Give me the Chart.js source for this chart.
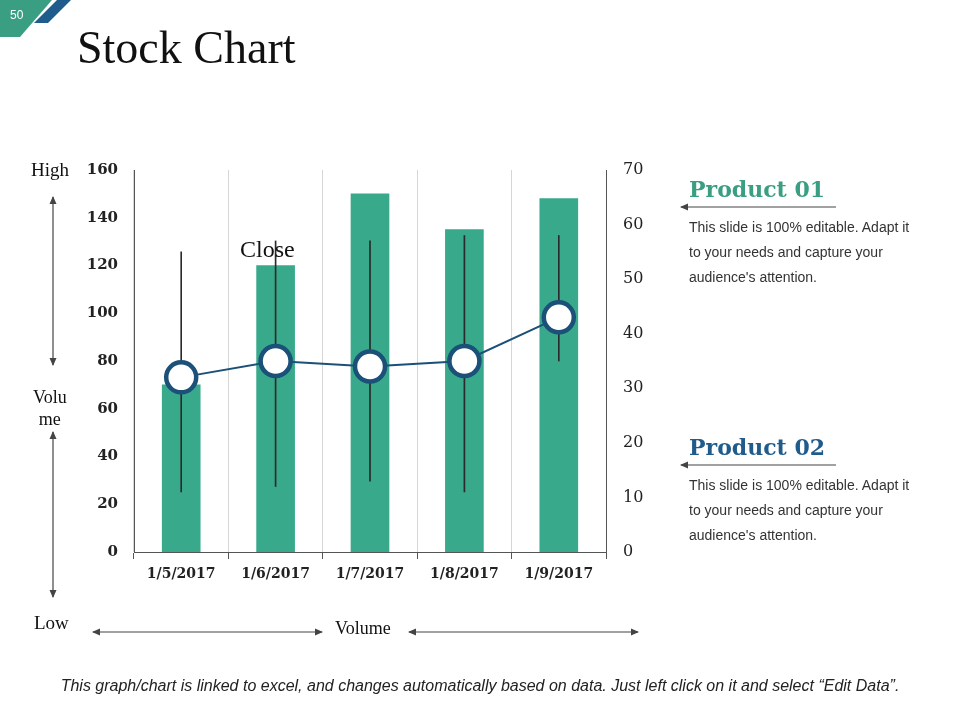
<!DOCTYPE html>
<html>
<head>
<meta charset="utf-8">
<script src="https://cdn.jsdelivr.net/npm/chart.js@4"></script>
<style>
  body { margin: 0; background: #fff; }
  #wrap { position: relative; width: 960px; height: 720px; overflow: hidden; }
  #c { position: absolute; left: 0; top: 0; }
  .t { position: absolute; white-space: nowrap; color: #111; }
  .serif { font-family: "Liberation Serif", serif; }
  .para { font-family: "Liberation Sans", Arial, sans-serif; font-size: 14px; line-height: 25px; color: #333; }
  .head { font-family: "DejaVu Serif", serif; font-weight: bold; font-size: 22px; }
  svg { position: absolute; left: 0; top: 0; }
</style>
</head>
<body>
<div id="wrap">
  <canvas id="c" width="960" height="720"></canvas>
  <svg width="960" height="720">
    <defs>
      <marker id="ah" markerWidth="8" markerHeight="8" refX="7" refY="4" orient="auto-start-reverse" markerUnits="userSpaceOnUse">
        <path d="M0,0.5 L8,4 L0,7.5 z" fill="#444"/>
      </marker>
    </defs>
    <polygon points="0,0 52,0 20,37 0,37" fill="#3a9e82"/>
    <polygon points="57,0 71,0 48,23 34,23" fill="#1f5c8c"/>
    <line x1="53" y1="197" x2="53" y2="365" stroke="#444" stroke-width="1.2" marker-start="url(#ah)" marker-end="url(#ah)"/>
    <line x1="53" y1="432" x2="53" y2="597" stroke="#444" stroke-width="1.2" marker-start="url(#ah)" marker-end="url(#ah)"/>
    <line x1="93" y1="632" x2="322" y2="632" stroke="#444" stroke-width="1.2" marker-start="url(#ah)" marker-end="url(#ah)"/>
    <line x1="409" y1="632" x2="638" y2="632" stroke="#444" stroke-width="1.2" marker-start="url(#ah)" marker-end="url(#ah)"/>
    <line x1="681" y1="207" x2="836" y2="207" stroke="#444" stroke-width="1.2" marker-start="url(#ah)"/>
    <line x1="681" y1="465" x2="836" y2="465" stroke="#444" stroke-width="1.2" marker-start="url(#ah)"/>
  </svg>
  <div class="t" style="left:10px;top:8px;font:12px 'Liberation Sans',Arial,sans-serif;color:#fff;">50</div>
  <div class="t serif" style="left:77px;top:21px;font-size:46px;color:#111;">Stock Chart</div>

  <div class="t serif" style="left:31px;top:159px;font-size:19px;">High</div>
  <div class="t serif" style="left:33px;top:386px;font-size:18px;line-height:22px;text-align:center;">Volu<br>me</div>
  <div class="t serif" style="left:34px;top:612px;font-size:19px;">Low</div>
  <div class="t serif" style="left:335px;top:618px;font-size:18px;">Volume</div>
  <div class="t serif" style="left:240px;top:236px;font-size:24px;">Close</div>

  <div class="t head" style="left:689px;top:176px;color:#3a9e82;">Product 01</div>
  <div class="t para" style="left:689px;top:215px;">This slide is 100% editable. Adapt it<br>to your needs and capture your<br>audience's attention.</div>
  <div class="t head" style="left:689px;top:434px;color:#1f5c8c;">Product 02</div>
  <div class="t para" style="left:689px;top:473px;">This slide is 100% editable. Adapt it<br>to your needs and capture your<br>audience's attention.</div>

  <div class="t" style="left:0;width:960px;top:677px;text-align:center;font:italic 16px 'Liberation Sans',Arial,sans-serif;color:#222;">This graph/chart is linked to excel, and changes automatically based on data. Just left click on it and select “Edit Data”.</div>
</div>
<script>
// données
const dates = ["1/5/2017", "1/6/2017", "1/7/2017", "1/8/2017", "1/9/2017"];
const volume = [70, 120, 150, 135, 148];
const high = [55, 57, 57, 58, 58];
const low = [11, 12, 13, 11, 35];
const close = [32, 35, 34, 35, 43];
const volumeTicks = [0, 160, 20];
const priceTicks = [0, 70, 10];

const serifFont = "'DejaVu Serif', serif";

new Chart(document.getElementById("c"), {
    type: "bar",
    data: {
        labels: dates,
        datasets: [
            {
                type: "line",
                label: "Close",
                data: close,
                yAxisID: "y1",
                borderColor: "#1b5078",
                borderWidth: 2,
                pointRadius: 15,
                pointBorderWidth: 4.5,
                pointBorderColor: "#1b5078",
                pointBackgroundColor: "#fff",
                order: 0
            },
            {
                label: "High-Low",
                data: low.map((l, i) => [l, high[i]]),
                yAxisID: "y1",
                backgroundColor: "#2a2a2a",
                barThickness: 1,
                grouped: false,
                order: 1
            },
            {
                label: "Volume",
                data: volume,
                yAxisID: "y",
                backgroundColor: "#38a98a",
                barThickness: 38,
                grouped: false,
                order: 2
            }
        ]
    },
    options: {
        responsive: false,
        animation: false,
        layout: { padding: { left: 70, right: 304, top: 170, bottom: 128 } },
        plugins: { legend: { display: false }, tooltip: { enabled: false } },
        scales: {
            x: {
                offset: true,
                grid: { offset: true, color: "#d6d6d6", tickColor: "#555", tickLength: 7 },
                border: { color: "#555", width: 1 },
                ticks: { color: "#222", padding: 7, font: { family: serifFont, size: 14, weight: "bold" } },
                afterFit: s => { s.height = 40; }
            },
            y: {
                position: "left",
                min: volumeTicks[0], max: volumeTicks[1],
                grid: { display: false },
                border: { color: "#555", width: 1 },
                ticks: { stepSize: volumeTicks[2], color: "#222", padding: 8, font: { family: serifFont, size: 15, weight: "bold" } },
                afterFit: s => { s.width = 64; }
            },
            y1: {
                position: "right",
                min: priceTicks[0], max: priceTicks[1],
                grid: { display: false },
                border: { color: "#555", width: 1 },
                ticks: { stepSize: priceTicks[2], color: "#222", padding: 9, font: { family: serifFont, size: 16 } },
                afterFit: s => { s.width = 50; }
            }
        }
    }
});
</script>
</body>
</html>
